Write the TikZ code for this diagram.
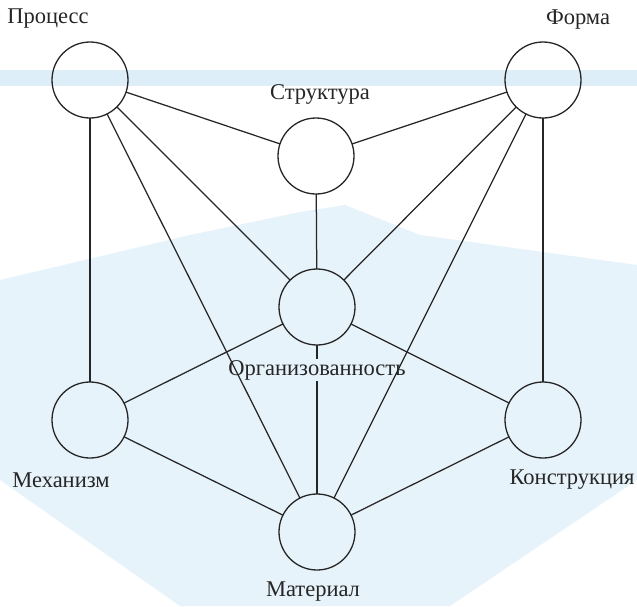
\documentclass[tikz,border=0pt]{standalone}
\usepackage{fontspec}
\setmainfont{Liberation Serif}
\usetikzlibrary{positioning}
\definecolor{watermarkBlue}{RGB}{221,238,248}
\definecolor{watermarkPale}{RGB}{231,243,250}
\tikzset{
   linePlain/.style={draw=black!85, line width=1.25pt},
   vertex/.style={draw=black!85, line width=1.3pt, shape=circle, fill=none, minimum size=76pt, inner sep=0pt, outer sep=0pt},
   vertexLabel/.style={font=\fontsize{22.5}{26}\selectfont, inner sep=1pt, text=black!85},
}

\begin{document}
\begin{tikzpicture}[x=1pt,y=-1pt,node distance=12pt]
  					\useasboundingbox (0,0) rectangle (637,606);
  					%
  					% faint watermark in the background
  					\fill[watermarkPale] (0,280) -- (190,235) -- (300,212) -- (345,205) -- (420,235) -- (637,265) -- (637,480) -- (450,606) -- (180,606) -- (0,480) -- cycle;
  					\fill[watermarkBlue] (0,70) rectangle (637,86);
  					%
  					\node[vertex] (process) at (90,80) {};
  					\node[vertex] (form) at (543,80) {};
  					\node[vertex] (structure) at (316,156) {};
  					\node[vertex] (organization) at (317,307) {};
  					\node[vertex] (mechanism) at (90,420) {};
  					\node[vertex] (construction) at (543,420) {};
  					\node[vertex] (material) at (317,532) {};
  					%
  					\node[vertexLabel] (processLabel) at (48,19) {Процесс};
  					\node[vertexLabel] (formLabel) at (578,20) {Форма};
  					\node[vertexLabel, above=of structure, xshift=4pt] (structureLabel) {Структура};
  					\node[vertexLabel, below=14pt of organization] (organizationLabel) {Организованность};
  					\node[vertexLabel] (mechanismLabel) at (61,480) {Механизм};
  					\node[vertexLabel] (constructionLabel) at (572,480) {Конструкция};
  					\node[vertexLabel, below=11pt of material, xshift=-4pt] (materialLabel) {Материал};
  					%
  					\foreach \from/\to in {process/structure, process/organization, process/mechanism, process/material,
  					                       form/structure, form/organization, form/construction, form/material,
  					                       structure/organization, organization/mechanism, organization/construction,
  					                       mechanism/material, construction/material}
  					   \draw[linePlain] (\from) -- (\to);
  					%
  					% the middle line is broken by its label
  					\draw[linePlain] (organization) -- (organizationLabel);
  					\draw[linePlain] (organizationLabel) -- (material);
  				\end{tikzpicture}
\end{document}
